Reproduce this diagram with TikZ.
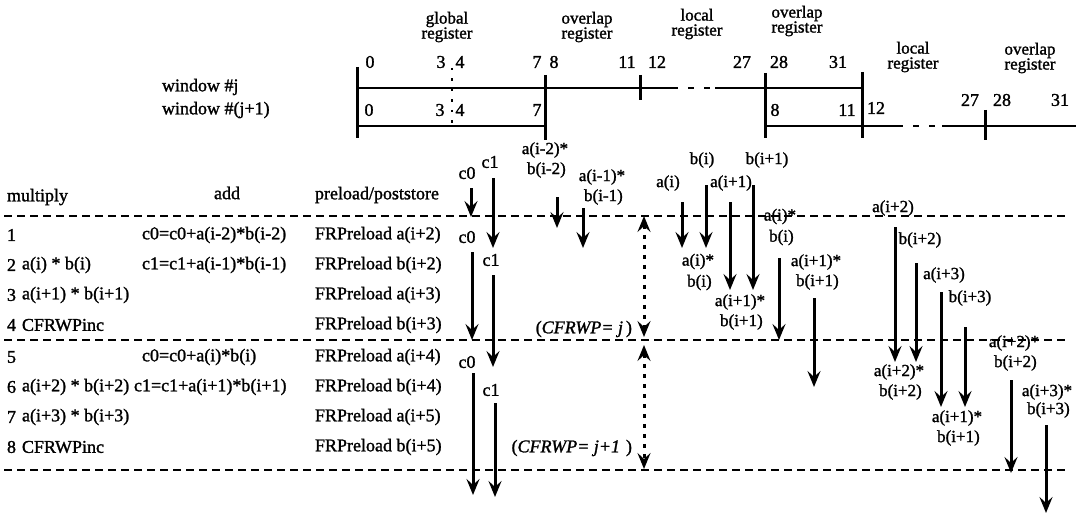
\documentclass[tikz,border=0pt]{standalone}
\usepackage{fontspec}
\setmainfont{Liberation Serif}[FakeBold=1.4]
\usetikzlibrary{arrows.meta}
\begin{document}
\begin{tikzpicture}[x=1pt,y=-1pt,
  every node/.style={inner sep=0pt, outer sep=0pt, font=\fontsize{18}{18}\selectfont},
  lbl/.style={font=\fontsize{17}{15}\selectfont, align=center},
  prod/.style={align=center,font=\fontsize{17}{20}\selectfont},
  sm/.style={font=\fontsize{17}{17}\selectfont},
  txt/.style={anchor=west},
  reg/.style={line width=2.2pt},
  bar/.style={line width=3pt},
  gap/.style={line width=2.2pt, dash pattern=on 6pt off 10pt},
  tip/.tip={Stealth[length=16pt,width=13pt,inset=6pt]},
  arr/.style={line width=3pt,-tip},
  darr/.style={line width=3pt,dash pattern=on 4pt off 6pt,tip-tip},
  sep/.style={line width=2pt,dash pattern=on 8pt off 5pt},
]
\useasboundingbox (0,0) rectangle (1076,516);

% ---------------- register windows ----------------
\draw[reg] (357,88) -- (672,88);
\draw[gap] (672,88) -- (715,88);
\draw[reg] (715,88) -- (862,88);
\draw[reg] (357,126) -- (545,126);
\draw[reg] (765,126) -- (897,126);
\draw[gap] (897,126) -- (942,126);
\draw[reg] (942,126) -- (1076,126);
\draw[bar] (357,67) -- (357,138);
\draw[bar] (545,75) -- (545,140);
\draw[bar] (640,75) -- (640,100);
\draw[bar] (765,73) -- (765,138);
\draw[bar] (862,72) -- (862,138);
\draw[bar] (985,110) -- (985,140);
\draw[line width=2.2pt, dash pattern=on 2.5pt off 8pt] (452,68) -- (452,130);

\node[lbl] (lglob) at (447,27) {global\\register};
\node[lbl] (lover1) at (587,27) {overlap\\register};
\node[lbl] (lloc1) at (697,24) {local\\register};
\node[lbl] (lover2) at (797,21) {overlap\\register};
\node[lbl] (lloc2) at (913,57) {local\\register};
\node[lbl] (lover3) at (1030,58) {overlap\\register};

\node (n0) at (370,62) {0};
\node (n3) at (441,62) {3};
\node (n4) at (460,62) {4};
\node (n7) at (537,62) {7};
\node (n8) at (554,62) {8};
\node (n11) at (627,62) {11};
\node (n12) at (657,62) {12};
\node (n27) at (742,62) {27};
\node (n28) at (779,62) {28};
\node (n31) at (838,62) {31};

\node (m0) at (369,110) {0};
\node (m3) at (440,110) {3};
\node (m4) at (460,110) {4};
\node (m7) at (537,110) {7};
\node (m8) at (775,110) {8};
\node (m11) at (847,110) {11};
\node (m12) at (876,108) {12};
\node (m27) at (970,100) {27};
\node (m28) at (1002,100) {28};
\node (m31) at (1060,100) {31};

\node[txt] (wj) at (162,87) {window \#j};
\node[txt] (wj1) at (162,110) {window \#(j+1)};

% ---------------- table ----------------
\node[txt] (hmul) at (7,197) {multiply};
\node (hadd) at (227,193) {add};
\node[txt] (hpre) at (315,195) {preload/poststore};

\draw[sep] (4,216) -- (1066,216);
\draw[sep] (4,340) -- (1066,340);
\draw[sep] (4,470) -- (1066,470);

\node[txt] (r1) at (7,235) {1};
\node[txt] (r2) at (7,265) {2};
\node[txt] (r3) at (7,295) {3};
\node[txt] (r4) at (7,325) {4};
\node[txt] (r5) at (7,357) {5};
\node[txt] (r6) at (7,387) {6};
\node[txt] (r7) at (7,417) {7};
\node[txt] (r8) at (7,447) {8};

\node[txt] (m2) at (22,265) {a(i) * b(i)};
\node[txt] (mm3) at (22,295) {a(i+1) * b(i+1)};
\node[txt] (mm4) at (22,325) {CFRWPinc};
\node[txt] (mm6) at (22,387) {a(i+2) * b(i+2)};
\node[txt] (mm7) at (22,417) {a(i+3) * b(i+3)};
\node[txt] (mm8) at (22,447) {CFRWPinc};

\node[txt] (a1) at (142,235) {c0=c0+a(i-2)*b(i-2)};
\node[txt] (a2) at (142,265) {c1=c1+a(i-1)*b(i-1)};
\node[txt] (a5) at (142,357) {c0=c0+a(i)*b(i)};
\node[txt] (a6) at (134,387) {c1=c1+a(i+1)*b(i+1)};

\node[txt] (p1) at (315,235) {FRPreload a(i+2)};
\node[txt] (p2) at (315,265) {FRPreload b(i+2)};
\node[txt] (p3) at (315,295) {FRPreload a(i+3)};
\node[txt] (p4) at (315,325) {FRPreload b(i+3)};
\node[txt] (p5) at (315,357) {FRPreload a(i+4)};
\node[txt] (p6) at (315,387) {FRPreload b(i+4)};
\node[txt] (p7) at (315,417) {FRPreload a(i+5)};
\node[txt] (p8) at (315,447) {FRPreload b(i+5)};

% ---------------- c0 / c1 ----------------
\node (c0a) at (467,173) {c0};
\node (c1a) at (490,162) {c1};
\node (c0b) at (467,237) {c0};
\node (c1b) at (491,260) {c1};
\node (c0c) at (467,362) {c0};
\node (c1c) at (491,390) {c1};

\coordinate (c0as) at (471,188); \coordinate (c0ae) at (471,217);
\coordinate (c1as) at (493,178); \coordinate (c1ae) at (493,248);
\coordinate (c0bs) at (472,252); \coordinate (c0be) at (472,340);
\coordinate (c1bs) at (493,275); \coordinate (c1be) at (493,367);
\coordinate (c0cs) at (473,373); \coordinate (c0ce) at (473,495);
\coordinate (c1cs) at (495,403); \coordinate (c1ce) at (495,497);
\draw[arr] (c0as) -- (c0ae);
\draw[arr] (c1as) -- (c1ae);
\draw[arr] (c0bs) -- (c0be);
\draw[arr] (c1bs) -- (c1be);
\draw[arr] (c0cs) -- (c0ce);
\draw[arr] (c1cs) -- (c1ce);

% ---------------- products ----------------
\node[prod] (pm2) at (545,160) {a(i-2)*\\\,b(i-2)};
\node[prod] (pm1) at (602,187) {a(i-1)*\\\,b(i-1)};
\coordinate (pm2s) at (557,197); \coordinate (pm2e) at (557,228);
\coordinate (pm1s) at (583,208); \coordinate (pm1e) at (583,248);
\draw[arr] (pm2s) -- (pm2e);
\draw[arr] (pm1s) -- (pm1e);

\node[sm] (la0) at (668,183) {a(i)};
\node[sm] (lb0) at (702,160) {b(i)};
\node[sm] (la1) at (731,183) {a(i+1)};
\node[sm] (lb1) at (767,160) {b(i+1)};
\coordinate (la0s) at (682,202); \coordinate (la0e) at (682,248);
\coordinate (lb0s) at (706,185); \coordinate (lb0e) at (706,248);
\coordinate (la1s) at (730,202); \coordinate (la1e) at (730,290);
\coordinate (lb1s) at (753,185); \coordinate (lb1e) at (753,290);
\draw[arr] (la0s) -- (la0e);
\draw[arr] (lb0s) -- (lb0e);
\draw[arr] (la1s) -- (la1e);
\draw[arr] (lb1s) -- (lb1e);

\node[prod,font=\fontsize{17}{21}\selectfont] (q0) at (698,272) {a(i)*\\\,b(i)};
\node[prod] (q1) at (740,312) {a(i+1)*\\\,b(i+1)};

\node[prod,font=\fontsize{17}{21}\selectfont] (s0) at (780,227) {a(i)*\\\,b(i)};
\node[prod] (s1) at (816,272) {a(i+1)*\\\,b(i+1)};
\coordinate (s0s) at (779,258); \coordinate (s0e) at (779,340);
\coordinate (s1s) at (814,298); \coordinate (s1e) at (814,387);
\draw[arr] (s0s) -- (s0e);
\draw[arr] (s1s) -- (s1e);

\node[sm] (la2) at (893,208) {a(i+2)};
\node[sm] (lb2) at (920,240) {b(i+2)};
\node[sm] (la3) at (944,275) {a(i+3)};
\node[sm] (lb3) at (970,298) {b(i+3)};
\coordinate (la2s) at (895,227); \coordinate (la2e) at (895,362);
\coordinate (lb2s) at (916,263); \coordinate (lb2e) at (916,362);
\coordinate (la3s) at (941,292); \coordinate (la3e) at (941,407);
\coordinate (lb3s) at (965,327); \coordinate (lb3e) at (965,407);
\draw[arr] (la2s) -- (la2e);
\draw[arr] (lb2s) -- (lb2e);
\draw[arr] (la3s) -- (la3e);
\draw[arr] (lb3s) -- (lb3e);

\node[prod] (q2) at (899,382) {a(i+2)*\\\,b(i+2)};
\node[prod] (q3) at (957,428) {a(i+1)*\\\,b(i+1)};

\node[prod] (s2) at (1014,353) {a(i+2)*\\\,b(i+2)};
\node[prod,font=\fontsize{17}{18}\selectfont] (s3) at (1047,401) {a(i+3)*\\\,b(i+3)};
\coordinate (s2s) at (1011,380); \coordinate (s2e) at (1011,473);
\coordinate (s3s) at (1046,425); \coordinate (s3e) at (1046,513);
\draw[arr] (s2s) -- (s2e);
\draw[arr] (s3s) -- (s3e);

% ---------------- CFRWP ----------------
\coordinate (w1t) at (644,216); \coordinate (w1b) at (644,337);
\coordinate (w2t) at (644,345); \coordinate (w2b) at (644,469);
\draw[darr] (w1t) -- (w1b);
\draw[darr] (w2t) -- (w2b);
\node[anchor=east] (cw1) at (632,329) {({\itshape CFRWP= j}\,)};
\node[anchor=east] (cw2) at (632,448) {({\itshape CFRWP= j+1}\,\,)};

\end{tikzpicture}
\end{document}
